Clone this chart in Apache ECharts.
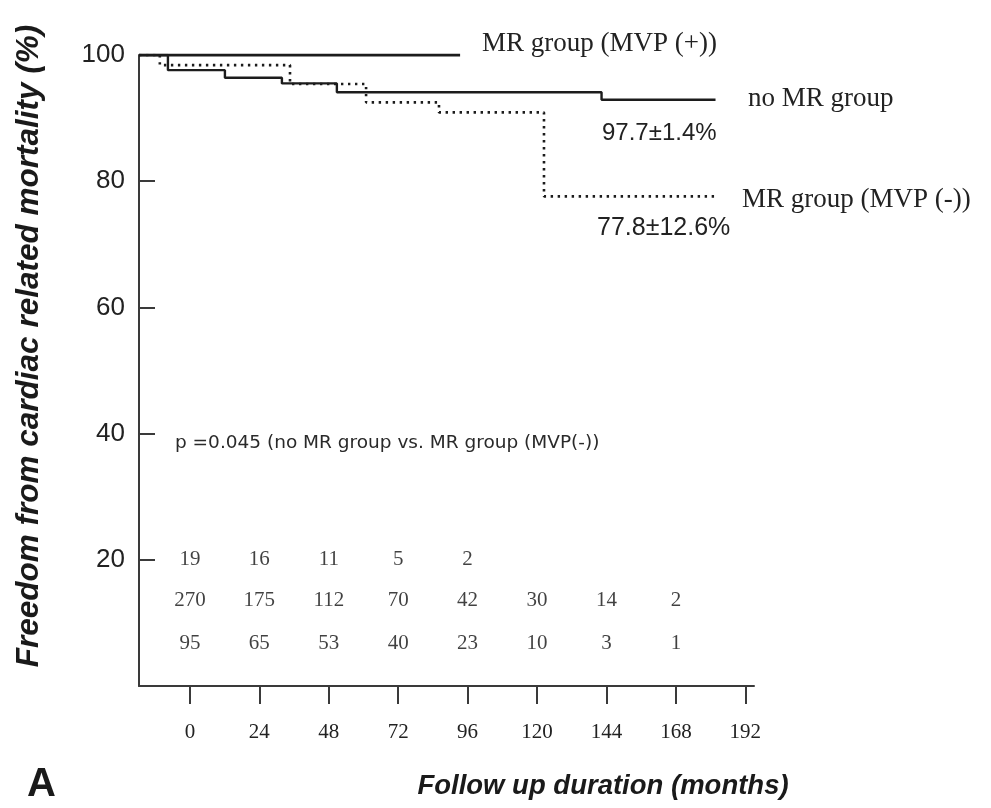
<!DOCTYPE html>
<html>
<head>
<meta charset="utf-8">
<script src="https://cdn.jsdelivr.net/npm/echarts@6/dist/echarts.min.js"></script>
<style>
html,body{margin:0;padding:0;background:#fff;}
#chart{width:991px;height:808px;}
</style>
</head>
<body>
<div id="chart"></div>
<script>
// ---- data ----
const xTicks = [0, 24, 48, 72, 96, 120, 144, 168, 192];
const yTicks = [20, 40, 60, 80, 100];

// no MR group (solid): step times (months) and survival (%)
const noMRTime = [-17.6, -7.6, 12.1, 31.8, 50.8, 142.3, 181.7];
const noMRSurv = [100, 97.6, 96.4, 95.5, 94.1, 92.9, 92.9];

// MR group (MVP (+)) (solid)
const mvpPosTime = [-17.6, 93.4];
const mvpPosSurv = [100, 100];

// MR group (MVP (-)) (dotted)
const mvpNegTime = [-17.6, -10.4, 34.6, 60.9, 86.1, 122.4, 181.7];
const mvpNegSurv = [100, 98.4, 95.4, 92.5, 90.9, 77.6, 77.6];

// numbers at risk
const riskMonths = [0, 24, 48, 72, 96, 120, 144, 168];
const riskMvpPos = [19, 16, 11, 5, 2];
const riskNoMR   = [270, 175, 112, 70, 42, 30, 14, 2];
const riskMvpNeg = [95, 65, 53, 40, 23, 10, 3, 1];
const riskRowY   = [20, 13.6, 6.8];

const zip = (xs, ys) => xs.map((x, i) => [x, ys[i]]);
const riskRow = (vals, y) => vals.map((v, i) => [riskMonths[i], y, v]);

const chart = echarts.init(document.getElementById('chart'));
const ink = '#1c1c1c';
const serif = '"Liberation Serif", "Times New Roman", serif';
const sans = '"Liberation Sans", Arial, sans-serif';

const riskSeries = (vals, y) => ({
  type: 'scatter',
  data: riskRow(vals, y),
  symbol: 'circle',
  symbolSize: 1,
  itemStyle: { color: 'rgba(255,255,255,0)' },
  silent: true,
  emphasis: { disabled: true },
  label: {
    show: true,
    position: 'inside',
    formatter: p => String(p.value[2]),
    fontFamily: serif,
    fontSize: 21,
    color: '#111'
  }
});

chart.setOption({
  animation: false,
  backgroundColor: '#fff',
  grid: { left: 139, right: 237, top: 55, bottom: 122, containLabel: false },
  xAxis: {
    type: 'value',
    min: -17.6,
    max: 195,
    splitLine: { show: false },
    axisLine: { show: true, onZero: false, lineStyle: { color: '#3a3a3a', width: 2 } },
    axisTick: { show: true, inside: false, length: 18, customValues: xTicks, lineStyle: { color: '#3a3a3a', width: 2 } },
    axisLabel: { customValues: xTicks, fontFamily: serif, fontSize: 21, color: '#222', margin: 36 }
  },
  yAxis: {
    type: 'value',
    min: 0,
    max: 100,
    splitLine: { show: false },
    axisLine: { show: true, onZero: false, lineStyle: { color: '#3a3a3a', width: 2 } },
    axisTick: { show: true, inside: true, length: 16, customValues: yTicks, lineStyle: { color: '#3a3a3a', width: 2 } },
    axisLabel: { customValues: yTicks, fontFamily: sans, fontSize: 26, color: '#222', margin: 14 }
  },
  series: [
    {
      name: 'no MR group', type: 'line', step: 'end', symbol: 'none',
      data: zip(noMRTime, noMRSurv),
      lineStyle: { color: ink, width: 2.4 }, z: 3
    },
    {
      name: 'MR group (MVP (-))', type: 'line', step: 'end', symbol: 'none',
      data: zip(mvpNegTime, mvpNegSurv),
      lineStyle: { color: ink, width: 2.6, type: [2.4, 4.6], cap: 'butt' }, z: 2
    },
    {
      name: 'MR group (MVP (+))', type: 'line', step: 'end', symbol: 'none',
      data: zip(mvpPosTime, mvpPosSurv),
      lineStyle: { color: ink, width: 3 }, z: 4
    },
    riskSeries(riskMvpPos, riskRowY[0]),
    riskSeries(riskNoMR, riskRowY[1]),
    riskSeries(riskMvpNeg, riskRowY[2])
  ],
  graphic: [
    { type: 'text', x: 482, y: 44, style: { text: 'MR group (MVP (+))', font: '27px ' + serif, fill: '#222', align: 'left', verticalAlign: 'middle' } },
    { type: 'text', x: 748, y: 99, style: { text: 'no MR group', font: '27px ' + serif, fill: '#222', align: 'left', verticalAlign: 'middle' } },
    { type: 'text', x: 602, y: 133, style: { text: '97.7±1.4%', font: '24px ' + sans, fill: '#222', align: 'left', verticalAlign: 'middle' } },
    { type: 'text', x: 742, y: 200, style: { text: 'MR group (MVP (-))', font: '27px ' + serif, fill: '#222', align: 'left', verticalAlign: 'middle' } },
    { type: 'text', x: 597, y: 228, style: { text: '77.8±12.6%', font: '25px ' + sans, fill: '#222', align: 'left', verticalAlign: 'middle' } },
    { type: 'text', x: 175, y: 443, style: { text: 'p =0.045 (no MR group vs. MR group (MVP(-))', font: '18.5px "DejaVu Sans", Verdana, sans-serif', fill: '#2a2a2a', align: 'left', verticalAlign: 'middle' } },
    { type: 'text', x: 29, y: 346, rotation: Math.PI / 2, style: { text: 'Freedom from cardiac related mortality (%)', font: 'italic bold 31.5px ' + sans, fill: '#1a1a1a', align: 'center', verticalAlign: 'middle' } },
    { type: 'text', x: 603, y: 786, style: { text: 'Follow up duration (months)', font: 'italic bold 27.5px ' + sans, fill: '#1a1a1a', align: 'center', verticalAlign: 'middle' } },
    { type: 'text', x: 27, y: 785, style: { text: 'A', font: 'bold 40px ' + sans, fill: '#1a1a1a', align: 'left', verticalAlign: 'middle' } }
  ]
});
</script>
</body>
</html>
